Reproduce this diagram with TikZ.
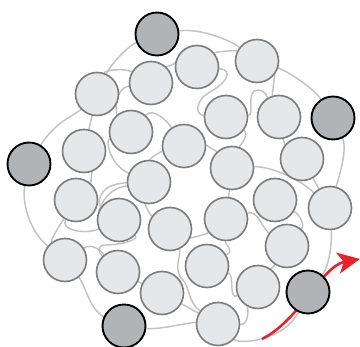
\documentclass[tikz,border=0pt]{standalone}
\usepackage{xcolor,tikz}
\usetikzlibrary{arrows.meta}
\definecolor{beadfill}{HTML}{E6E7E8}
\definecolor{beadline}{HTML}{7D7D7D}
\definecolor{outerfill}{HTML}{B1B3B5}
\definecolor{strandgray}{HTML}{C2C2C2}
\definecolor{pullred}{HTML}{E8212B}
\pgfdeclarelayer{strands}
\pgfsetlayers{strands,main}

\begin{document}
\begin{tikzpicture}[x=0.03cm,y=-0.03cm,
  bead/.style={circle,draw=beadline,fill=beadfill,line width=1.4pt,minimum size=1.29cm,inner sep=0pt},
  outerbead/.style={circle,draw=black,fill=outerfill,line width=1.6pt,minimum size=1.29cm,inner sep=0pt},
  strand/.style={draw=strandgray,line width=1.25pt},
  pull/.style={draw=pullred,line width=2.2pt,-{Stealth[length=19pt,width=18pt,inset=5pt]}}]
\useasboundingbox (0,0) rectangle (360,347);
% beads inside the particle
\foreach \n/\x/\y in {1/97/94,2/151/83,3/197/67,4/257/61,5/131/132,6/84/151,7/184/146,
  8/226/117,9/279/117,10/302/159,11/232/168,12/149/182,13/76/200,14/119/220,15/170/229,
  16/226/219,17/275/200,18/330/208,19/287/246,20/65/260,21/118/272,22/162/293,
  23/207/266,24/258/287,25/218/324}
  \node[bead] (b\n) at (\x,\y) {};
% beads on the surface
\node[outerbead] (o1) at (157,34) {};
\node[outerbead] (o2) at (29,164) {};
\node[outerbead] (o3) at (333,118) {};
\node[outerbead] (o4) at (124,326) {};
\node[outerbead] (o5) at (308,292) {};
\coordinate (pullstart) at (262,339);
\coordinate (pullend) at (360,259);

\begin{pgfonlayer}{strands}
% outer strand
\draw[strand] (o1) .. controls (130,45) and (112,62) .. (b1);
\draw[strand] (b1) .. controls (105,70) and (125,68) .. (b2);
\draw[strand] (b1) .. controls (75,115) and (55,122) .. (o2);
\draw[strand] (o2) .. controls (22,200) and (28,230) .. (b20);
\draw[strand] (b20) .. controls (85,285) and (90,310) .. (o4);
\draw[strand] (o4) .. controls (160,330) and (190,322) .. (b25);
\draw[strand] (b25) .. controls (240,345) and (285,340) .. (o5);
\draw[strand] (o5) .. controls (330,265) and (332,240) .. (b18);
\draw[strand] (b18) .. controls (338,180) and (348,150) .. (o3);
\draw[strand] (o3) .. controls (315,90) and (290,72) .. (b4);
\draw[strand] (b4) .. controls (230,40) and (200,28) .. (o1);
% inner strands
\draw[strand] (b1) -- (b6);
\draw[strand] (b6) .. controls (92,170) and (90,185) .. (b13);
\draw[strand] (b2) .. controls (165,68) and (180,62) .. (b3);
\draw[strand] (b3) .. controls (215,52) and (235,50) .. (b4);
\draw[strand] (b2) .. controls (115,88) and (115,112) .. (b5);
\draw[strand] (b5) .. controls (152,108) and (165,118) .. (b7);
\draw[strand] (b3) .. controls (235,70) and (225,84) .. (210,92) .. controls (195,100) and (195,115) .. (b8);
\draw[strand] (b4) .. controls (275,75) and (272,95) .. (b9);
\draw[strand] (b8) .. controls (255,115) and (245,90) .. (258,90) .. controls (268,90) and (270,105) .. (b9);
\draw[strand] (b9) .. controls (282,135) and (285,145) .. (b10);
\draw[strand] (b10) -- (b18);
\draw[strand] (b11) .. controls (265,166) and (295,175) .. (b18);
\draw[strand] (b17) .. controls (300,215) and (305,225) .. (b19);
\draw[strand] (b5) .. controls (105,140) and (110,165) .. (b12);
\draw[strand] (b13) .. controls (60,230) and (85,235) .. (b14);
\draw[strand] (b14) .. controls (98,205) and (96,184) .. (b12);
\draw[strand] (b14) .. controls (100,212) and (102,190) .. (b12);
\draw[strand] (b12) .. controls (145,205) and (150,215) .. (b15);
\draw[strand] (b12) .. controls (150,158) and (160,152) .. (b7);
\draw[strand] (b7) .. controls (205,145) and (215,150) .. (b11);
\draw[strand] (b11) .. controls (240,145) and (250,135) .. (b8);
\draw[strand] (b11) -- (b16);
\draw[strand] (b16) .. controls (258,210) and (262,228) .. (b19);
\draw[strand] (b19) .. controls (275,265) and (270,270) .. (b24);
\draw[strand] (b15) .. controls (190,238) and (205,235) .. (b16);
\draw[strand] (b13) .. controls (60,225) and (50,240) .. (b20);
\draw[strand] (b14) .. controls (140,240) and (120,245) .. (105,245) .. controls (97,245) and (98,252) .. (b21);
\draw[strand] (b20) .. controls (92,243) and (100,250) .. (b21);
\draw[strand] (b21) -- (b22);
\draw[strand] (b15) .. controls (182,255) and (172,270) .. (183,280) .. controls (190,288) and (188,302) .. (b25);
\draw[strand] (b16) .. controls (225,245) and (235,250) .. (b23);
\draw[strand] (b23) .. controls (235,275) and (228,300) .. (b24);
\draw[strand] (b22) -- (b25);
\draw[strand] (b24) .. controls (248,305) and (250,325) .. (b25);
% pulled strand
\draw[pull] (pullstart) .. controls (300,320) and (322,266) .. (pullend);
\end{pgfonlayer}
\end{tikzpicture}
\end{document}
